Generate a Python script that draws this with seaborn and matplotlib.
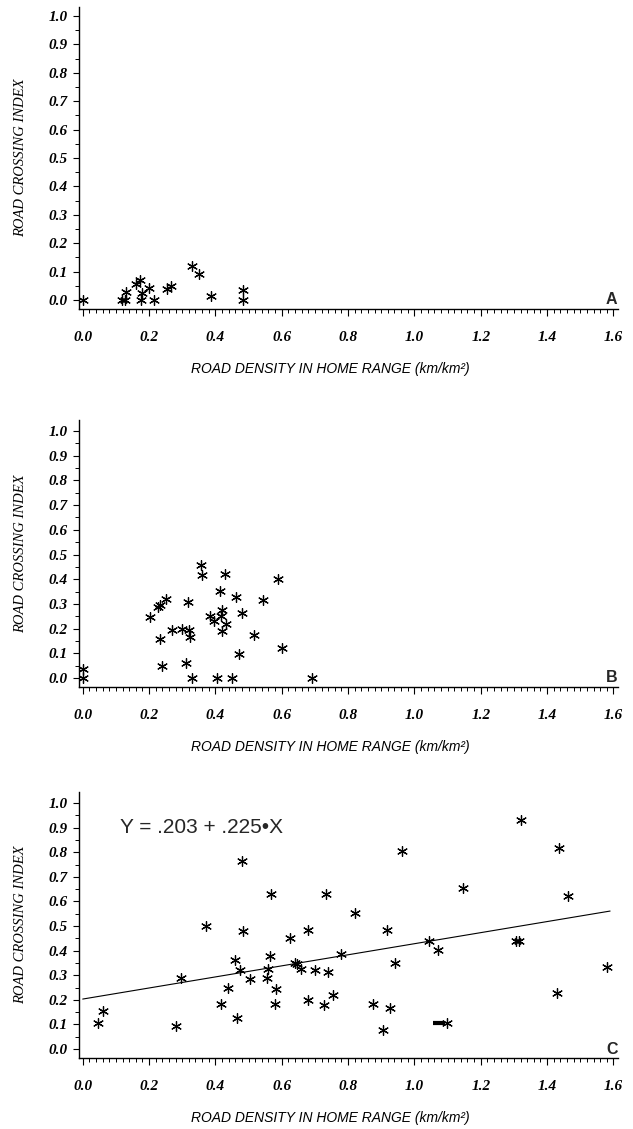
import numpy as np
import pandas as pd
import matplotlib
matplotlib.use("Agg")
import matplotlib.pyplot as plt
import seaborn as sns
from matplotlib.ticker import MultipleLocator, FormatStrFormatter

# ---------------- data ----------------
a_x = [0.0, 0.118, 0.128, 0.13, 0.161, 0.173, 0.178, 0.176, 0.201, 0.216,
       0.253, 0.266, 0.329, 0.352, 0.387, 0.484, 0.484]
a_y = [0.0, 0.0, 0.0, 0.027, 0.058, 0.069, 0.023, 0.0, 0.044, 0.0,
       0.038, 0.05, 0.119, 0.092, 0.015, 0.035, 0.0]

b_x = [0.0, 0.0, 0.203, 0.226, 0.233, 0.251, 0.233, 0.24, 0.27, 0.3,
       0.318, 0.321, 0.322, 0.311, 0.331, 0.357, 0.359, 0.429, 0.384, 0.396,
       0.414, 0.421, 0.417, 0.431, 0.419, 0.406, 0.449, 0.462, 0.481, 0.471,
       0.517, 0.588, 0.545, 0.6, 0.69]
b_y = [0.0, 0.038, 0.247, 0.287, 0.296, 0.318, 0.159, 0.047, 0.193, 0.197,
       0.307, 0.193, 0.168, 0.061, 0.0, 0.456, 0.418, 0.422, 0.249, 0.23,
       0.352, 0.276, 0.249, 0.217, 0.19, 0.0, 0.0, 0.327, 0.263, 0.098,
       0.175, 0.399, 0.314, 0.121, 0.0]

c_x = [0.045, 0.06, 0.282, 0.296, 0.372, 0.481, 0.484, 0.46, 0.474, 0.438,
       0.417, 0.466, 0.504, 0.568, 0.566, 0.558, 0.556, 0.583, 0.581, 0.625,
       0.64, 0.647, 0.659, 0.679, 0.68, 0.699, 0.733, 0.727, 0.74, 0.756,
       0.778, 0.82, 0.964, 0.917, 0.941, 0.874, 0.926, 0.906, 1.045, 1.072,
       1.098, 1.146, 1.305, 1.315, 1.321, 1.436, 1.462, 1.431, 1.582]
c_y = [0.107, 0.154, 0.093, 0.29, 0.5, 0.764, 0.48, 0.363, 0.322, 0.249,
       0.182, 0.127, 0.283, 0.629, 0.378, 0.327, 0.29, 0.245, 0.182, 0.453,
       0.35, 0.347, 0.324, 0.485, 0.198, 0.32, 0.629, 0.178, 0.313, 0.218,
       0.388, 0.554, 0.804, 0.485, 0.351, 0.184, 0.167, 0.076, 0.439, 0.404,
       0.107, 0.656, 0.438, 0.438, 0.932, 0.818, 0.622, 0.229, 0.333]

# regression shown in panel C
reg_intercept = 0.203
reg_slope = 0.225
reg_x = [0.0, 1.59]
reg_label = "Y = .203 + .225\u2022X"

# small black dash mark in panel C
dash_x = [1.073]
dash_y = [0.107]

panel_letters = ["A", "B", "C"]
x_label = "ROAD DENSITY IN HOME RANGE (km/km\u00b2)"
y_label = "ROAD CROSSING INDEX"

# ---------------- figure ----------------
sns.set_style("ticks")
plt.rcParams["font.family"] = ["Liberation Sans", "DejaVu Sans"]

W, H = 633, 1129
fig = plt.figure(figsize=(W / 100, H / 100), dpi=100)

X0_PX, XU = 82.7, 331.7
XMIN, XMAX = -0.01, 1.615

layouts = [
    dict(zero=300, unit=284, top=9, bot=9),
    dict(zero=678, unit=247, top=11, bot=9),
    dict(zero=1049, unit=246, top=11, bot=9),
]
datasets = [
    pd.DataFrame({"x": a_x, "y": a_y}),
    pd.DataFrame({"x": b_x, "y": b_y}),
    pd.DataFrame({"x": c_x, "y": c_y}),
]

asterisk = (6, 2, 0)
tick_font = dict(family="Liberation Serif", weight="bold", style="italic", size=11)

for i, (lay, df) in enumerate(zip(layouts, datasets)):
    left_px = X0_PX + XMIN * XU
    width_px = (XMAX - XMIN) * XU
    ytop = 1.0 + lay["top"] / lay["unit"]
    ybot = -lay["bot"] / lay["unit"]
    top_px = lay["zero"] - ytop * lay["unit"]
    height_px = (ytop - ybot) * lay["unit"]
    ax = fig.add_axes([left_px / W, 1 - (top_px + height_px) / H,
                       width_px / W, height_px / H])

    sns.scatterplot(data=df, x="x", y="y", marker=asterisk, s=50,
                    color="black", edgecolor="black", linewidth=0.9,
                    ax=ax, legend=False, zorder=3)

    if i == 2:
        rx = np.array(reg_x)
        sns.lineplot(x=rx, y=reg_intercept + reg_slope * rx, color="black",
                     linewidth=0.8, ax=ax, legend=False)
        sns.scatterplot(x=dash_x, y=dash_y, marker="_", s=70, color="black",
                        edgecolor="black", linewidth=3.0, ax=ax, legend=False)
        ax.text(0.111, 0.9, reg_label, fontsize=15, family="Liberation Sans",
                va="center", ha="left")

    ax.set_xlim(XMIN, XMAX)
    ax.set_ylim(ybot, ytop)
    ax.xaxis.set_major_locator(MultipleLocator(0.2))
    ax.xaxis.set_minor_locator(MultipleLocator(0.02))
    ax.yaxis.set_major_locator(MultipleLocator(0.1))
    ax.yaxis.set_minor_locator(MultipleLocator(0.05))
    ax.xaxis.set_major_formatter(FormatStrFormatter("%.1f"))
    ax.yaxis.set_major_formatter(FormatStrFormatter("%.1f"))
    ax.tick_params(axis="x", which="major", length=4.8, width=0.8, pad=11,
                   direction="out", color="black")
    ax.tick_params(axis="x", which="minor", length=2.7, width=0.7,
                   direction="out", color="black")
    ax.tick_params(axis="y", which="major", length=4.5, width=0.8, pad=4,
                   direction="out", color="black")
    ax.tick_params(axis="y", which="minor", length=2.6, width=0.7,
                   direction="out", color="black")
    for lab in ax.get_xticklabels() + ax.get_yticklabels():
        lab.set_fontproperties(tick_font)
        lab.set_color("black")

    sns.despine(ax=ax)
    for sp in ("left", "bottom"):
        ax.spines[sp].set_linewidth(1.0)
        ax.spines[sp].set_color("black")

    ax.set_xlabel(x_label, fontsize=10, style="italic",
                  family="Liberation Sans", color="black")
    ax.xaxis.set_label_coords((330 - left_px) / width_px, -53 / height_px)
    ax.set_ylabel(y_label, fontsize=10.5, style="italic",
                  family="Liberation Serif", color="black")
    ax.yaxis.set_label_coords((27 - left_px) / width_px, 0.5)

    ax.text(1.595, 0.0, panel_letters[i], fontsize=11.5, fontweight="bold",
            family="Liberation Sans", ha="center", va="center")

fig.savefig("out.png", dpi=100)
